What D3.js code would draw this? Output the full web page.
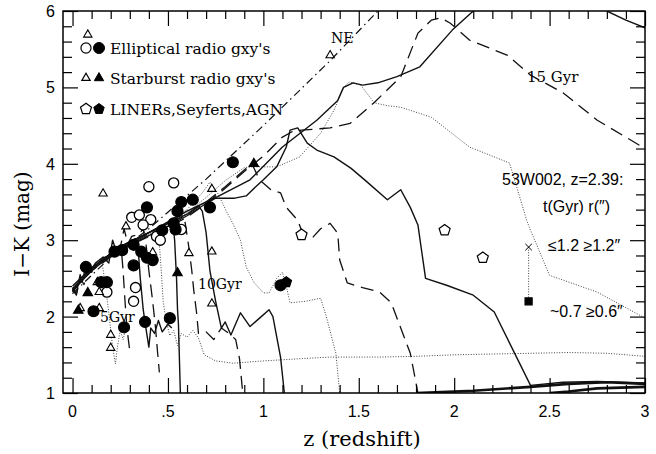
<!DOCTYPE html>
<html><head><meta charset="utf-8">
<script src="https://cdn.jsdelivr.net/npm/d3@7"></script>
<style>body{margin:0;background:#fff}svg{display:block}</style>
</head><body>
<svg id="chart" width="656" height="454"></svg>
<script>
// ---- axes ----
const xMajorTicks = [0, 0.5, 1, 1.5, 2, 2.5, 3];
const xTickLabels = ["0", ".5", "1", "1.5", "2", "2.5", "3"];
const yMajorTicks = [1, 2, 3, 4, 5, 6];
const yTickLabels = ["1", "2", "3", "4", "5", "6"];

// ---- model tracks: [z, I-K] ----
const trackNE = [[0,2.3],[0.2,2.78],[0.4,3.15],[0.7,3.8],[1.0,4.5],[1.35,5.35],[1.6,6.0]];
const track5 = [[0,2.3],[0.03,2.42],[0.06,2.52],[0.09,2.6],[0.12,2.68],[0.14,2.74],[0.155,2.7],[0.17,2.45],[0.19,2.05],[0.21,1.6],[0.225,1.38],[0.235,1.6],[0.25,1.82],[0.265,1.7],[0.28,1.85]];
const track6 = [[0,2.35],[0.02,2.28],[0.04,2.5],[0.06,2.42],[0.08,2.62],[0.1,2.58],[0.15,2.74],[0.2,2.84],[0.24,2.92],[0.255,2.9],[0.265,2.6],[0.275,2.2],[0.285,1.85],[0.3,1.55]];
const track7 = [[0,2.38],[0.02,2.3],[0.04,2.55],[0.05,2.45],[0.07,2.66],[0.08,2.55],[0.12,2.7],[0.16,2.78],[0.19,2.7],[0.21,3.0],[0.23,2.85],[0.25,2.92],[0.3,2.98],[0.33,3.02],[0.345,2.85],[0.355,2.5],[0.37,2.1],[0.38,1.92],[0.4,1.6],[0.41,1.85],[0.43,1.78],[0.45,1.95],[0.47,1.8],[0.5,1.9],[0.52,1.85]];
const track8 = [[0,2.32],[0.05,2.48],[0.1,2.6],[0.15,2.72],[0.2,2.82],[0.25,2.9],[0.27,3.15],[0.29,2.95],[0.31,3.05],[0.35,3.08],[0.37,3.15],[0.385,2.95],[0.4,2.6],[0.42,2.2],[0.435,1.85],[0.445,1.55],[0.455,1.27]];
const track9 = [[0,2.36],[0.05,2.5],[0.1,2.62],[0.15,2.72],[0.2,2.8],[0.25,2.88],[0.3,2.96],[0.35,3.03],[0.4,3.1],[0.44,3.15],[0.455,2.95],[0.465,2.6],[0.475,2.2],[0.49,1.95],[0.51,1.75],[0.53,1.82],[0.55,1.62],[0.57,1.78],[0.6,1.73],[0.63,1.82],[0.66,1.72],[0.69,1.5],[0.75,1.42],[0.84,1.39],[1.0,1.42],[1.2,1.45],[1.35,1.47],[1.6,1.47],[1.8,1.48],[2.0,1.5],[2.2,1.51],[2.4,1.52],[2.6,1.53],[2.8,1.52],[3.0,1.48]];
const track9b = [[0,2.34],[0.05,2.5],[0.1,2.63],[0.15,2.73],[0.2,2.82],[0.25,2.9],[0.3,2.97],[0.35,3.04],[0.4,3.1],[0.45,3.16],[0.5,3.22],[0.525,3.25],[0.535,3.0],[0.545,2.5],[0.55,2.1],[0.555,1.9],[0.56,1.45],[0.565,1.0]];
const track10a = [[0,2.37],[0.1,2.63],[0.2,2.83],[0.3,2.97],[0.4,3.1],[0.5,3.22],[0.57,3.33],[0.59,3.23],[0.61,2.9],[0.625,2.6],[0.635,2.35],[0.65,2.05],[0.66,1.78],[0.7,1.8],[0.74,1.7],[0.78,1.85],[0.82,1.78],[0.855,1.7],[0.875,1.45],[0.89,1.05]];
const track10 = [[0,2.33],[0.1,2.62],[0.2,2.82],[0.3,2.97],[0.4,3.1],[0.5,3.22],[0.6,3.34],[0.66,3.45],[0.68,3.38],[0.7,3.1],[0.72,2.6],[0.75,2.2],[0.78,1.85],[0.8,1.93],[0.83,1.76],[0.88,2.05],[0.93,1.87],[0.98,1.98],[1.03,2.09],[1.05,2.0],[1.09,1.47],[1.11,1.0]];
const track11 = [[0,2.35],[0.1,2.6],[0.2,2.8],[0.3,2.96],[0.4,3.1],[0.5,3.24],[0.6,3.4],[0.68,3.62],[0.72,3.76],[0.76,3.62],[0.81,3.36],[0.84,3.22],[0.88,3.0],[0.91,2.65],[0.95,2.45],[1.0,2.31],[1.03,2.31],[1.07,2.5],[1.1,2.58],[1.12,2.4],[1.14,2.18],[1.22,2.2],[1.3,2.24],[1.33,2.0],[1.38,1.52],[1.4,1.0]];
const track12 = [[0,2.36],[0.1,2.62],[0.2,2.8],[0.3,2.95],[0.4,3.08],[0.5,3.2],[0.6,3.34],[0.7,3.5],[0.8,3.7],[0.9,3.92],[0.94,4.0],[0.98,3.79],[1.04,3.66],[1.09,3.62],[1.12,3.43],[1.18,3.26],[1.2,3.13],[1.26,3.04],[1.3,3.15],[1.35,3.22],[1.39,3.09],[1.4,2.74],[1.44,2.44],[1.52,2.38],[1.61,2.32],[1.67,2.18],[1.72,1.85],[1.77,1.52],[1.81,1.0]];
const track13 = [[0,2.34],[0.1,2.6],[0.2,2.8],[0.3,2.94],[0.4,3.06],[0.5,3.18],[0.6,3.32],[0.7,3.48],[0.75,3.55],[0.85,3.55],[0.91,3.58],[0.96,3.7],[1.0,3.79],[1.07,3.96],[1.12,4.22],[1.14,4.44],[1.18,4.47],[1.23,4.27],[1.28,4.18],[1.37,4.09],[1.46,3.94],[1.54,3.77],[1.65,3.53],[1.72,3.66],[1.77,3.43],[1.81,3.2],[1.85,2.5],[1.96,2.41],[2.1,2.28],[2.21,2.06],[2.4,1.1],[2.57,1.14],[2.75,1.15],[3.0,1.13]];
const track14 = [[0,2.37],[0.1,2.63],[0.2,2.82],[0.3,2.96],[0.4,3.08],[0.5,3.2],[0.6,3.36],[0.7,3.56],[0.8,3.78],[0.9,3.95],[0.95,3.96],[1.07,3.96],[1.19,4.09],[1.3,4.4],[1.37,4.7],[1.42,5.0],[1.45,5.07],[1.51,5.03],[1.58,4.8],[1.65,4.76],[1.72,4.74],[1.88,4.61],[2.08,4.22],[2.29,4.01],[2.38,3.26],[2.4,3.13],[2.5,2.54],[2.75,2.32],[3.0,1.98]];
const track15 = [[0,2.35],[0.1,2.6],[0.2,2.78],[0.3,2.93],[0.4,3.05],[0.5,3.17],[0.6,3.3],[0.7,3.48],[0.8,3.68],[0.9,3.9],[1.0,4.1],[1.1,4.35],[1.15,4.42],[1.2,4.44],[1.35,4.47],[1.455,4.53],[1.58,4.8],[1.72,5.14],[1.81,5.71],[1.88,5.88],[1.93,5.91],[1.98,5.84],[2.08,5.62],[2.28,5.42],[2.4,5.16],[2.57,4.93],[2.75,4.57],[3.0,4.2]];
const trackUpper = [[0,2.4],[0.1,2.64],[0.2,2.82],[0.3,2.97],[0.4,3.1],[0.5,3.24],[0.6,3.38],[0.7,3.5],[0.76,3.57],[0.93,3.79],[1.1,4.22],[1.28,4.57],[1.39,4.83],[1.42,5.0],[1.47,5.06],[1.52,5.03],[1.6,5.06],[1.7,5.14],[1.82,5.27],[1.99,5.75],[2.1,6.0]];
const trackUpperReturn = [[2.8,6.0],[2.9,5.88],[3.0,5.78]];
const trackFloorA = [[1.8,1.0],[2.1,1.03],[2.4,1.08],[2.6,1.12],[2.8,1.14],[3.0,1.12]];
const trackFloorB = [[2.5,1.0],[2.6,1.02],[2.75,1.06],[3.0,1.08]];

// ---- observed galaxies: [z, I-K] ----
const ellipticalOpen = [[0.40,3.70],[0.53,3.75],[0.31,3.30],[0.35,3.33],[0.41,3.27],[0.37,3.20],[0.44,3.05],[0.46,3.0],[0.57,3.14],[0.18,2.32],[0.33,2.38],[0.32,2.20]];
const ellipticalFilled = [[0.84,4.02],[0.72,3.43],[0.39,3.43],[0.55,3.38],[0.57,3.5],[0.63,3.53],[0.53,3.22],[0.47,3.13],[0.54,3.14],[0.22,2.85],[0.26,2.87],[0.32,2.94],[0.36,2.85],[0.39,2.77],[0.42,2.74],[0.32,2.67],[0.15,2.45],[0.18,2.45],[0.11,2.07],[0.27,1.86],[0.38,1.93],[0.51,1.98],[0.07,2.65],[1.09,2.41]];
const starburstOpen = [[0.08,5.69],[0.16,3.61],[1.35,5.42],[0.61,2.83],[0.73,2.85],[0.73,2.17],[0.42,2.84],[0.13,2.45],[0.14,2.32],[0.04,2.11],[0.14,2.11],[0.2,1.76],[0.2,1.59],[0.73,3.67],[0.28,3.18]];
const starburstFilled = [[0.95,4.0],[0.55,2.57],[0.08,2.31],[0.03,2.08]];
const agnOpen = [[1.2,3.07],[1.95,3.13],[2.15,2.77]];
const agnFilled = [[1.12,2.45]];
// 53W002 at z=2.39: I-K for t<=1.2 Gyr (cross) and t~0.7 Gyr (square)
const w002Cross = [[2.39,2.91]];
const w002Square = [[2.39,2.2]];

// ---- layout ----
const svg = d3.select("#chart");
const L = 63, R = 645, T = 11, B = 393;
const x = d3.scaleLinear().domain([-0.05, 3]).range([L, R]);
const y = d3.scaleLinear().domain([1, 6]).range([B, T]);

svg.append("defs").append("clipPath").attr("id", "plotclip")
  .append("rect").attr("x", L).attr("y", T).attr("width", R - L).attr("height", B - T);

const line = d3.line().x(d => x(d[0])).y(d => y(d[1]));
const plot = svg.append("g").attr("clip-path", "url(#plotclip)");

const SOLID = {stroke: "#111", w: 1.4, dash: null};
const DASH = {stroke: "#111", w: 1.3, dash: "13,7"};
const DOT = {stroke: "#444", w: 1.0, dash: "1,1.6"};
const DASHDOT = {stroke: "#111", w: 1.2, dash: "8,4,1.5,4"};
const THICK = {stroke: "#111", w: 2.6, dash: null};

const tracks = [
  [trackNE, DASHDOT], [track5, DOT], [track6, DASH], [track7, SOLID], [track8, DASH],
  [track9, DOT], [track9b, SOLID], [track10a, DASH], [track10, SOLID], [track11, DOT],
  [track12, DASH], [track13, SOLID], [track14, DOT], [track15, DASH],
  [trackUpper, SOLID], [trackUpperReturn, SOLID], [trackFloorA, THICK], [trackFloorB, THICK]
];
tracks.forEach(([data, st]) => {
  plot.append("path").datum(data).attr("d", line)
    .attr("fill", "none").attr("stroke", st.stroke).attr("stroke-width", st.w)
    .attr("stroke-linejoin", "round")
    .attr("stroke-dasharray", st.dash);
});

// 53W002 connector
plot.append("path").datum([w002Cross[0], w002Square[0]]).attr("d", line)
  .attr("fill", "none").attr("stroke", "#444").attr("stroke-width", 1).attr("stroke-dasharray", "1,1.6");

// ---- markers ----
function pentagon(r) {
  const p = d3.path();
  for (let k = 0; k < 5; k++) {
    const a = -Math.PI / 2 + k * 2 * Math.PI / 5;
    const px = r * Math.cos(a), py = r * Math.sin(a);
    k === 0 ? p.moveTo(px, py) : p.lineTo(px, py);
  }
  p.closePath();
  return p.toString();
}
const circlePath = d3.symbol(d3.symbolCircle, 80)();
const circleFillPath = d3.symbol(d3.symbolCircle, 95)();
const triPath = d3.symbol(d3.symbolTriangle, 30)();
const triFillPath = d3.symbol(d3.symbolTriangle, 38)();
const crossPath = d3.symbol(d3.symbolTimes, 30)();
const squarePath = d3.symbol(d3.symbolSquare, 50)();

function drawMarks(g, data, path, filled, sw) {
  g.selectAll(null).data(data).join("path")
    .attr("d", path)
    .attr("transform", d => `translate(${x(d[0])},${y(d[1])})`)
    .attr("fill", filled ? "#000" : "#fff")
    .attr("stroke", "#000").attr("stroke-width", sw || 1.2);
}
const marks = svg.append("g");
drawMarks(marks, ellipticalOpen, circlePath, false, 1.3);
drawMarks(marks, starburstOpen, triPath, false, 1.1);
drawMarks(marks, ellipticalFilled, circleFillPath, true);
drawMarks(marks, starburstFilled, triFillPath, true);
drawMarks(marks, agnOpen, pentagon(5.8), false, 1.2);
drawMarks(marks, agnFilled, pentagon(5.5), true);
drawMarks(marks, w002Cross, crossPath, false, 1.0);
drawMarks(marks, w002Square, squarePath, true);

// ---- frame and ticks (inward on all sides) ----
const xMinor = d3.range(0, 30.5, 1).map(v => v / 10).filter(v => Math.round(v * 10) % 5 !== 0);
const yMinor = d3.range(10, 60.5, 2).map(v => v / 10).filter(v => Math.round(v * 10) % 10 !== 0);
const axisStyle = g => {
  g.select(".domain").remove();
  g.selectAll("line").attr("stroke", "#000").attr("stroke-width", 1.2);
  g.selectAll("text").remove();
};
[[d3.axisBottom, B], [d3.axisTop, T]].forEach(([fn, pos]) => {
  svg.append("g").attr("transform", `translate(0,${pos})`)
    .call(fn(x).tickValues(xMajorTicks).tickSize(-15)).call(axisStyle);
  svg.append("g").attr("transform", `translate(0,${pos})`)
    .call(fn(x).tickValues(xMinor).tickSize(-8)).call(axisStyle);
});
[[d3.axisLeft, L], [d3.axisRight, R]].forEach(([fn, pos]) => {
  svg.append("g").attr("transform", `translate(${pos},0)`)
    .call(fn(y).tickValues(yMajorTicks).tickSize(-15)).call(axisStyle);
  svg.append("g").attr("transform", `translate(${pos},0)`)
    .call(fn(y).tickValues(yMinor).tickSize(-9)).call(axisStyle);
});
svg.append("rect").attr("x", L).attr("y", T).attr("width", R - L).attr("height", B - T)
  .attr("fill", "none").attr("stroke", "#000").attr("stroke-width", 1.5);

// tick labels
const tickFont = "'Liberation Sans', Arial, sans-serif";
svg.append("g").selectAll("text").data(xMajorTicks).join("text")
  .attr("x", d => x(d)).attr("y", 417).attr("text-anchor", "middle")
  .attr("font-family", tickFont).attr("font-size", 16)
  .text((d, i) => xTickLabels[i]);
svg.append("g").selectAll("text").data(yMajorTicks).join("text")
  .attr("x", 55).attr("y", d => y(d) + 6).attr("text-anchor", "end")
  .attr("font-family", tickFont).attr("font-size", 16)
  .text((d, i) => yTickLabels[i]);

// axis titles
const serif = "'DejaVu Serif', 'Liberation Serif', serif";
svg.append("text").attr("x", 362).attr("y", 446).attr("text-anchor", "middle")
  .attr("font-family", serif).attr("font-size", 21).text("z (redshift)");
svg.append("text").attr("transform", "translate(29,224) rotate(-90)").attr("text-anchor", "middle")
  .attr("font-family", serif).attr("font-size", 20).text("I\u2212K (mag)");

// legend
const legendRows = [
  {y: 48, label: "Elliptical radio gxy's", open: circlePath, filled: circleFillPath},
  {y: 78, label: "Starburst radio gxy's", open: triPath, filled: triFillPath},
  {y: 109, label: "LINERs,Seyferts,AGN", open: pentagon(5.8), filled: pentagon(5.5)}
];
const leg = svg.append("g");
legendRows.forEach(r => {
  leg.append("path").attr("d", r.open).attr("transform", `translate(86,${r.y})`)
    .attr("fill", "#fff").attr("stroke", "#000").attr("stroke-width", 1.2);
  leg.append("path").attr("d", r.filled).attr("transform", `translate(99,${r.y})`)
    .attr("fill", "#000").attr("stroke", "#000");
  leg.append("text").attr("x", 110).attr("y", r.y + 5.5)
    .attr("font-family", serif).attr("font-size", 15.5).text(r.label);
});

// annotations
const notes = [
  {x: 331, y: 43, t: "NE", f: serif, s: 14},
  {x: 527, y: 82, t: "15 Gyr", f: serif, s: 15},
  {x: 198, y: 289, t: "10Gyr", f: serif, s: 14},
  {x: 100, y: 322, t: "5Gyr", f: serif, s: 14},
  {x: 502, y: 185, t: "53W002, z=2.39:", f: tickFont, s: 16},
  {x: 543, y: 212, t: "t(Gyr)  r(\u2033)", f: tickFont, s: 16},
  {x: 548, y: 251, t: "\u22641.2  \u22651.2\u2033", f: tickFont, s: 16},
  {x: 550, y: 317, t: "~0.7  \u22650.6\u2033", f: tickFont, s: 16}
];
svg.append("g").selectAll("text").data(notes).join("text")
  .attr("x", d => d.x).attr("y", d => d.y)
  .attr("font-family", d => d.f).attr("font-size", d => d.s)
  .text(d => d.t);
</script>
</body></html>
